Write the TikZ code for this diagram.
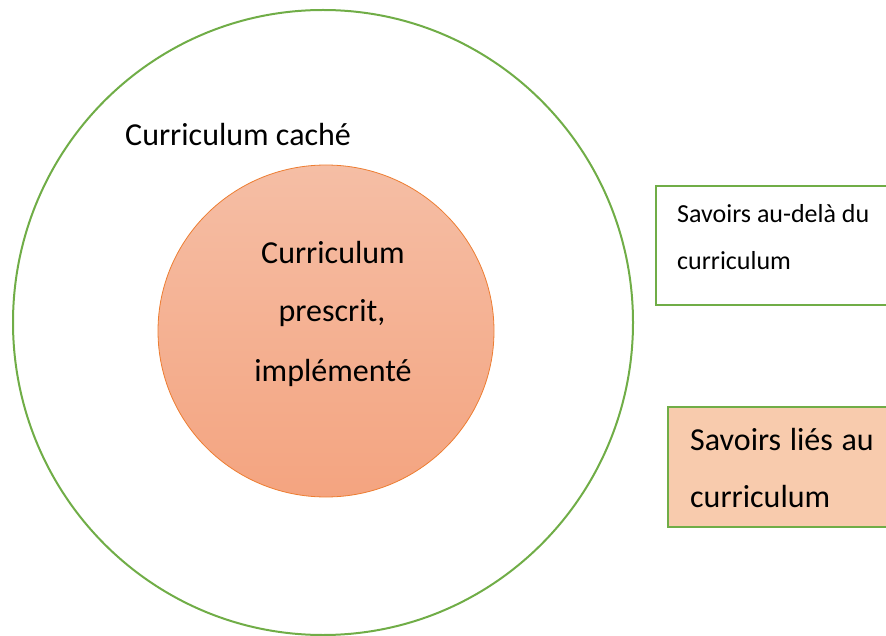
\documentclass[tikz,border=0pt]{standalone}
\usepackage{fontspec}
\setmainfont{Carlito}
\usetikzlibrary{shapes.geometric}
\definecolor{grn}{RGB}{112,173,71}
\definecolor{org}{RGB}{237,125,49}
\definecolor{peach}{RGB}{248,203,173}
\definecolor{topc}{RGB}{245,190,165}
\definecolor{botc}{RGB}{244,164,128}
\tikzset{
  ring/.style={ellipse, draw=grn, line width=2pt, inner sep=0pt},
  core/.style={ellipse, draw=org, line width=0.8pt, top color=topc, bottom color=botc, inner sep=0pt},
  boxframe/.style={draw=grn, line width=2.2pt, inner sep=0pt},
  lbl/.style={anchor=base west, inner sep=0pt, text=black},
  clbl/.style={anchor=base, inner sep=0pt, text=black},
}
\begin{document}
\begin{tikzpicture}[x=1pt,y=-1pt]
\path[use as bounding box] (0,0) rectangle (886,636);
\clip (0,0) rectangle (886,636);
\node[ring, minimum width=620pt, minimum height=625pt] (outer) at (323,322.5) {};
\node[core, minimum width=336pt, minimum height=332pt] (inner) at (326,331) {};
\node[lbl, font=\fontsize{32}{38}\selectfont] (cache) at (125,146) {Curriculum caché};
\node[clbl, font=\fontsize{32}{38}\selectfont] (p1) at (333,264) {Curriculum};
\node[clbl, font=\fontsize{32}{38}\selectfont] (p2) at (332,322) {prescrit,};
\node[clbl, font=\fontsize{32}{38}\selectfont] (p3) at (333,381) {implémenté};
\draw[boxframe, fill=white] (656,186) rectangle (900,305);
\node[lbl, font=\fontsize{26}{30}\selectfont] (b1a) at (677,223) {Savoirs au-delà du};
\node[lbl, font=\fontsize{26}{30}\selectfont] (b1b) at (677,270) {curriculum};
\draw[boxframe, fill=peach] (668,407) rectangle (900,527);
\node[lbl, font=\fontsize{32}{38}\selectfont] (b2a) at (690,450) {Savoirs\hspace{0.27em}liés\hspace{0.27em}au};
\node[lbl, font=\fontsize{32}{38}\selectfont] (b2b) at (690,507) {curriculum};
\end{tikzpicture}
\end{document}
